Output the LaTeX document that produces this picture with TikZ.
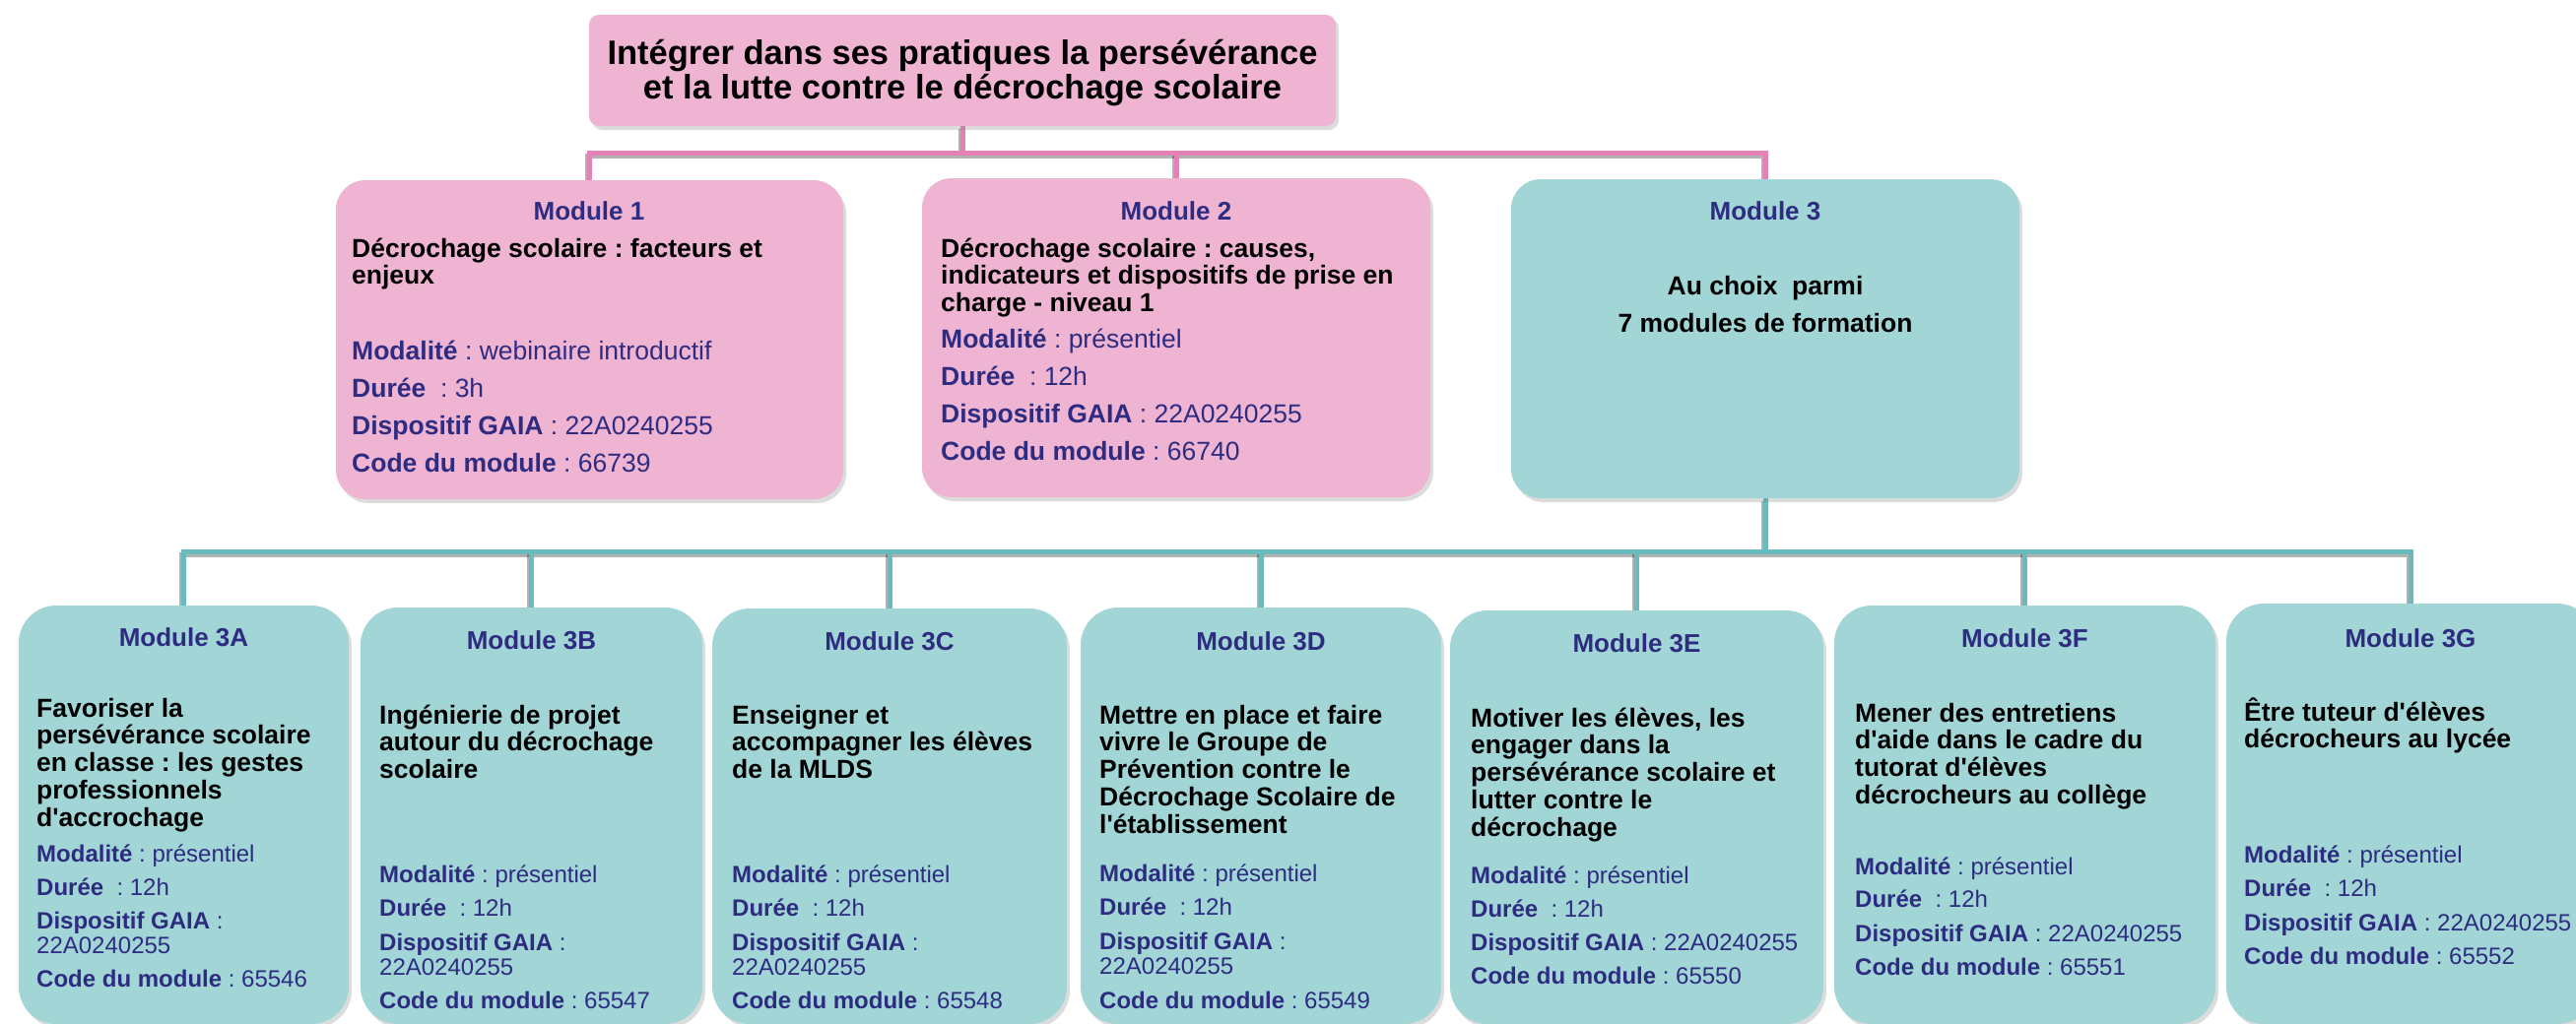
\documentclass[tikz,border=0pt]{standalone}
\usepackage{fontspec}
\setmainfont{Liberation Sans}[Ligatures=TeXOff]
\usetikzlibrary{shadows}
\definecolor{pinkfill}{RGB}{240,180,211}
\definecolor{pinkline}{RGB}{228,130,181}
\definecolor{tealfill}{RGB}{161,213,214}
\definecolor{tealline}{RGB}{104,188,190}
\definecolor{navy}{RGB}{46,44,128}
\newcommand\firstln{\rule{0pt}{25pt}}
\newcommand\lbl[1]{\textbf{#1}}
\pgfdeclarelayer{bg}
\pgfsetlayers{bg,main}
\frenchspacing
\begin{document}
\begin{tikzpicture}[x=1pt,y=-1pt,
  box/.style={draw=none, rounded corners=#1, inner sep=0pt, outer sep=0pt, anchor=north west,
    drop shadow={shadow xshift=3pt, shadow yshift=-4pt, opacity=0.28}},
  hdr/.style={font=\fontsize{26}{28}\selectfont\bfseries, text=navy, anchor=base, inner sep=0pt},
  ttl/.style={font=\fontsize{26.5}{27.7}\selectfont\bfseries, text=black, align=left, anchor=north west, inner sep=0pt},
  det/.style={font=\fontsize{26.5}{26.5}\selectfont, text=navy, align=left, anchor=north west, inner sep=0pt},
  sdet/.style={font=\fontsize{24}{25.5}\selectfont, text=navy, align=left, anchor=north west, inner sep=0pt},
  pinkln/.style={draw=pinkline, line width=5pt},
  tealln/.style={draw=tealline, line width=5pt},
  lshadow/.style={draw=black, opacity=0.3, line width=5pt, transform canvas={xshift=-2pt, yshift=-3pt}}]
\useasboundingbox (0,0) rectangle (2615,1039);
\clip (0,0) rectangle (2615,1039);

\coordinate (pb) at (977,155);
\coordinate (tb) at (1792,560);

% top level boxes
\node[box=10pt, fill=pinkfill, minimum width=758pt, minimum height=113pt] (top) at (598,15) {};
\node[box=30pt, fill=pinkfill, minimum width=515pt, minimum height=324pt] (m1) at (341,183) {};
\node[box=30pt, fill=pinkfill, minimum width=516pt, minimum height=324pt] (m2) at (936,181) {};
\node[box=30pt, fill=tealfill, minimum width=516pt, minimum height=324pt] (m3) at (1534,182) {};

% bottom boxes
\node[box=38pt, fill=tealfill, minimum width=335pt, minimum height=425pt] (a) at (19,615) {};
\node[box=38pt, fill=tealfill, minimum width=347pt, minimum height=423pt] (b) at (366,617) {};
\node[box=38pt, fill=tealfill, minimum width=360pt, minimum height=422pt] (c) at (723,618) {};
\node[box=38pt, fill=tealfill, minimum width=366pt, minimum height=423pt] (d) at (1097,617) {};
\node[box=38pt, fill=tealfill, minimum width=379pt, minimum height=420pt] (e) at (1472,620) {};
\node[box=38pt, fill=tealfill, minimum width=387pt, minimum height=425pt] (f) at (1862,615) {};
\node[box=38pt, fill=tealfill, minimum width=374pt, minimum height=427pt] (g) at (2260,613) {};

% connectors (behind the boxes)
\begin{pgfonlayer}{bg}
\draw[lshadow] (top.south) -- (pb);
\draw[lshadow] (m1.north) -- (m1.north |- pb) -- (m3.north |- pb) -- (m3.north);
\draw[lshadow] (m2.north) -- (m2.north |- pb);
\draw[pinkln] (top.south) -- (pb);
\draw[pinkln] (m1.north) -- (m1.north |- pb) -- (m3.north |- pb) -- (m3.north);
\draw[pinkln] (m2.north) -- (m2.north |- pb);
\draw[lshadow] (m3.south) -- (tb);
\draw[lshadow] (a.north) -- (a.north |- tb) -- (g.north |- tb) -- (g.north);
\foreach \n in {b,c,d,e,f} \draw[lshadow] (\n.north) -- (\n.north |- tb);
\draw[tealln] (m3.south) -- (tb);
\draw[tealln] (a.north) -- (a.north |- tb) -- (g.north |- tb) -- (g.north);
\foreach \n in {b,c,d,e,f} \draw[tealln] (\n.north) -- (\n.north |- tb);
\end{pgfonlayer}

% top title
\node[font=\fontsize{34.5}{35}\selectfont\bfseries, align=center, anchor=north, inner sep=0pt] (toptxt) at (977,35)
  {\rule{0pt}{30pt}Intégrer dans ses pratiques la persévérance\\et la lutte contre le décrochage scolaire};

% Module 1
\node[hdr] (h1) at (598,223) {Module 1};
\node[ttl] (t1) at (357,236) {\firstln Décrochage scolaire : facteurs et\\enjeux};
\node[det] (d1) at (357,340) {\firstln\lbl{Modalité} : webinaire introductif\\[11.5pt]
  \lbl{Durée}\ \ : 3h\\[11.5pt]\lbl{Dispositif GAIA} : 22A0240255\\[11.5pt]\lbl{Code du module} : 66739};

% Module 2
\node[hdr] (h2) at (1194,223) {Module 2};
\node[ttl] (t2) at (955,236) {\firstln Décrochage scolaire : causes,\\indicateurs et dispositifs de prise en\\charge - niveau 1};
\node[det] (d2) at (955,328) {\firstln\lbl{Modalité} : présentiel\\[11.5pt]
  \lbl{Durée}\ \ : 12h\\[11.5pt]\lbl{Dispositif GAIA} : 22A0240255\\[11.5pt]\lbl{Code du module} : 66740};

% Module 3
\node[hdr] (h3) at (1792,223) {Module 3};
\node[font=\fontsize{26.5}{38}\selectfont\bfseries, align=center, anchor=north, inner sep=0pt] (t3) at (1792,274)
  {\firstln Au choix~ parmi\\7 modules de formation};

% Module 3A
\node[hdr] (ha) at (186.5,656) {Module 3A};
\node[ttl] (ta) at (37,703) {\firstln Favoriser la\\persévérance scolaire\\en classe : les gestes\\professionnels\\d'accrochage};
\node[sdet] (da) at (37,850) {\firstln\lbl{Modalité} : présentiel\\[9pt]\lbl{Durée}\ \ : 12h\\[8pt]
  \lbl{Dispositif GAIA} :\\22A0240255\\[8pt]\lbl{Code du module} : 65546};

% Module 3B
\node[hdr] (hb) at (539.5,659) {Module 3B};
\node[ttl] (tbx) at (385,710) {\firstln Ingénierie de projet\\autour du décrochage\\scolaire};
\node[sdet] (db) at (385,871) {\firstln\lbl{Modalité} : présentiel\\[9pt]\lbl{Durée}\ \ : 12h\\[9pt]
  \lbl{Dispositif GAIA} :\\22A0240255\\[8pt]\lbl{Code du module} : 65547};

% Module 3C
\node[hdr] (hc) at (903,660) {Module 3C};
\node[ttl] (tc) at (743,710) {\firstln Enseigner et\\accompagner les élèves\\de la MLDS};
\node[sdet] (dc) at (743,871) {\firstln\lbl{Modalité} : présentiel\\[9pt]\lbl{Durée}\ \ : 12h\\[9pt]
  \lbl{Dispositif GAIA} :\\22A0240255\\[8pt]\lbl{Code du module} : 65548};

% Module 3D
\node[hdr] (hd) at (1280,660) {Module 3D};
\node[ttl] (td) at (1116,710) {\firstln Mettre en place et faire\\vivre le Groupe de\\Prévention contre le\\Décrochage Scolaire de\\l'établissement};
\node[sdet] (dd) at (1116,870) {\firstln\lbl{Modalité} : présentiel\\[9pt]\lbl{Durée}\ \ : 12h\\[9pt]
  \lbl{Dispositif GAIA} :\\22A0240255\\[9pt]\lbl{Code du module} : 65549};

% Module 3E
\node[hdr] (he) at (1661.5,662) {Module 3E};
\node[ttl] (te) at (1493,713) {\firstln Motiver les élèves, les\\engager dans la\\persévérance scolaire et\\lutter contre le\\décrochage};
\node[sdet] (de) at (1493,872) {\firstln\lbl{Modalité} : présentiel\\[9pt]\lbl{Durée}\ \ : 12h\\[8pt]
  \lbl{Dispositif GAIA} : 22A0240255\\[8.5pt]\lbl{Code du module} : 65550};

% Module 3F
\node[hdr] (hf) at (2055.5,657) {Module 3F};
\node[ttl] (tf) at (1883,708) {\firstln Mener des entretiens\\d'aide dans le cadre du\\tutorat d'élèves\\décrocheurs au collège};
\node[sdet] (df) at (1883,863) {\firstln\lbl{Modalité} : présentiel\\[8pt]\lbl{Durée}\ \ : 12h\\[9pt]
  \lbl{Dispositif GAIA} : 22A0240255\\[9pt]\lbl{Code du module} : 65551};

% Module 3G
\node[hdr] (hg) at (2447,657) {Module 3G};
\node[ttl] (tg) at (2278,707) {\firstln Être tuteur d'élèves\\décrocheurs au lycée};
\node[sdet] (dg) at (2278,851) {\firstln\lbl{Modalité} : présentiel\\[9pt]\lbl{Durée}\ \ : 12h\\[9pt]
  \lbl{Dispositif GAIA} : 22A0240255\\[8.5pt]\lbl{Code du module} : 65552};
\end{tikzpicture}
\end{document}
